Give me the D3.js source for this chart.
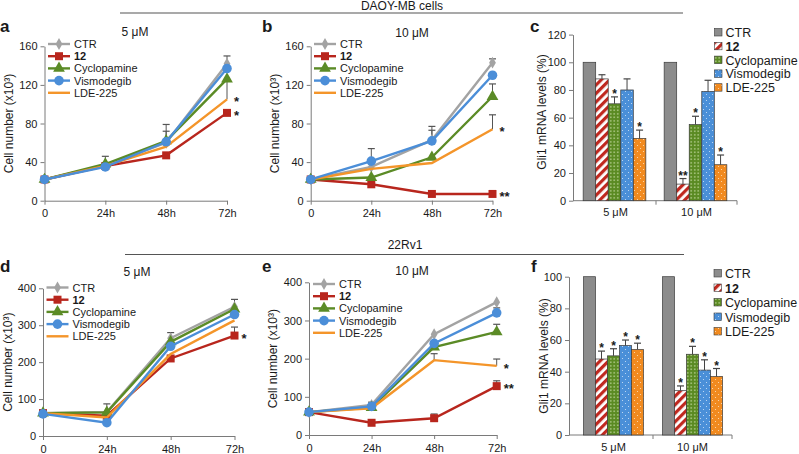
<!DOCTYPE html>
<html><head><meta charset="utf-8">
<script src="https://cdn.jsdelivr.net/npm/d3@7"></script>
<style>body{margin:0;background:#fff} svg{display:block} text{font-family:Arial,"Liberation Sans",sans-serif;fill:#1a1a1a}</style>
</head><body><svg id="c" width="799" height="454"></svg>
<script>
// ---------- DATA ----------
const timepoints = ["0","24h","48h","72h"];
const seriesNames = ["CTR","12","Cyclopamine","Vismodegib","LDE-225"];
const doseGroups = ["5 μM","10 μM"];

// Panel a: DAOY-MB, 5 μM (cells x10^3)
const aCTR = [22,37,60,142], aCTRerr = [null,46,79,150];
const a12  = [22,36,47,91],  a12err  = [null,null,null,null];
const aCyc = [22,38,62,126], aCycerr = [null,null,null,null];
const aVis = [22,35,61,137], aViserr = [null,null,72,null];
const aLDE = [22,36,56,105], aLDEerr = [null,null,null,124];
const aStars = ["","*","","","*"];

// Panel b: DAOY-MB, 10 μM
const bCTR = [22,35,63,143], bCTRerr = [null,null,77,147];
const b12  = [22,17,7,7],    b12err  = [null,null,null,null];
const bCyc = [22,24,45,108], bCycerr = [null,null,null,121];
const bVis = [22,41,62,130], bViserr = [null,54,73,null];
const bLDE = [22,33,39,74],  bLDEerr = [null,null,null,89];
const bStars = ["","**","","","*"];

// Panel d: 22Rv1, 5 μM
const dCTR = [62,65,265,350], dCTRerr = [null,87,280,370];
const d12  = [62,55,210,272], d12err  = [null,null,null,295];
const dCyc = [62,64,255,344], dCycerr = [null,null,null,null];
const dVis = [60,36,243,329], dViserr = [null,null,null,null];
const dLDE = [62,50,222,313], dLDEerr = [null,null,null,null];
const dStars = ["","*","","",""];

// Panel e: 22Rv1, 10 μM
const eCTR = [60,79,264,348], eCTRerr = [null,86,null,null];
const e12  = [60,32,44,128],  e12err  = [null,38,55,142];
const eCyc = [60,72,230,270], eCycerr = [null,null,null,290];
const eVis = [60,75,240,320], eViserr = [null,null,null,333];
const eLDE = [60,70,196,181], eLDEerr = [null,null,213,199];
const eStars = ["","**","","","*"];

// Panel c: Gli1 mRNA (%), DAOY-MB
const c5  = [100,88,70,80,45], c5err  = [null,91,75,88,51], c5stars  = ["","","*","","*"];
const c10 = [100,12,55,79,26], c10err = [null,16,61,87,33], c10stars = ["","**","*","","*"];
// Panel f: Gli1 mRNA (%), 22Rv1
const f5  = [100,48,50,56.5,54], f5err  = [null,53,54.5,60,58], f5stars  = ["","*","*","*","*"];
const f10 = [100,28,51,41,37],   f10err = [null,31,56,47.5,42], f10stars = ["","*","*","*","*"];

const lineTicks160 = [0,40,80,120,160];
const lineTicks400 = [0,100,200,300,400];
const barTicks120 = [0,20,40,60,80,100,120];
const barTicks100 = [0,20,40,60,80,100];

// ---------- STYLE ----------
const lineColors = ["#a3a3a3","#b8261d","#5b8b26","#4b8ed8","#f4952a"];
const markerTypes = [d3.symbolDiamond, d3.symbolSquare, d3.symbolTriangle, d3.symbolCircle, null];
const markerSizes = [40, 64, 60, 72, 0];
const FONT = 'Arial,"Liberation Sans",sans-serif';

const svg = d3.select("#c");
const defs = svg.append("defs");

function pat(id, w, h, draw) {
  const p = defs.append("pattern").attr("id", id).attr("patternUnits","userSpaceOnUse")
    .attr("width", w).attr("height", h);
  draw(p);
}
pat("pCTR", 4, 4, p => p.append("rect").attr("width",4).attr("height",4).attr("fill","#8c8c8c"));
pat("p12", 6, 6, p => {
  p.attr("patternTransform","rotate(45)");
  p.append("rect").attr("width",6).attr("height",6).attr("fill","#fff");
  p.append("rect").attr("width",3.2).attr("height",6).attr("fill","#c0281f");
});
pat("pCyc", 3.5, 3.5, p => {
  p.append("rect").attr("width",3.5).attr("height",3.5).attr("fill","#5a8a22");
  p.append("circle").attr("cx",1.75).attr("cy",1.75).attr("r",0.75).attr("fill","#d7e8b8");
});
pat("pVis", 6, 6, p => {
  p.append("rect").attr("width",6).attr("height",6).attr("fill","#4a8fd8");
  p.append("circle").attr("cx",1.5).attr("cy",1.5).attr("r",0.55).attr("fill","#cfe2f7");
  p.append("circle").attr("cx",4.5).attr("cy",4.5).attr("r",0.55).attr("fill","#cfe2f7");
});
pat("pLDE", 6, 6, p => {
  p.append("rect").attr("width",6).attr("height",6).attr("fill","#f18a1f");
  p.append("circle").attr("cx",1.5).attr("cy",1.5).attr("r",0.55).attr("fill","#fde0bd");
  p.append("circle").attr("cx",4.5).attr("cy",4.5).attr("r",0.55).attr("fill","#fde0bd");
});
const barFills = ["url(#pCTR)","url(#p12)","url(#pCyc)","url(#pVis)","url(#pLDE)"];

function styleAxis(g) {
  g.selectAll(".domain").attr("stroke","#7a7a7a").attr("stroke-width",1);
  g.selectAll(".tick line").attr("stroke","#7a7a7a");
  g.selectAll(".tick text").attr("font-size",11).attr("font-family",FONT).attr("fill","#1a1a1a");
}

function text(x, y, s, opts = {}) {
  const t = svg.append("text").attr("x",x).attr("y",y).text(s)
    .attr("font-size", opts.size || 12).attr("font-family",FONT)
    .attr("text-anchor", opts.anchor || "start");
  if (opts.weight) t.attr("font-weight", opts.weight);
  return t;
}
function ylabel(x, y, s) {
  svg.append("text").attr("transform",`translate(${x},${y}) rotate(-90)`)
    .attr("text-anchor","middle").attr("font-size",12).attr("font-family",FONT).text(s);
}

// ---------- LINE PANELS ----------
function linePanel(cfg) {
  const x = d3.scalePoint().domain(timepoints).range([cfg.x0, cfg.x1]);
  const y = d3.scaleLinear().domain([0, cfg.ymax]).range([cfg.y0, cfg.y1]);
  const gy = svg.append("g").attr("transform",`translate(${cfg.x0},0)`)
    .call(d3.axisLeft(y).tickValues(cfg.ticks).tickSize(4).tickSizeOuter(0).tickPadding(3));
  styleAxis(gy);
  const gx = svg.append("g").attr("transform",`translate(0,${cfg.y0})`)
    .call(d3.axisBottom(x).tickSize(4).tickSizeOuter(0).tickPadding(5));
  styleAxis(gx);

  const line = d3.line().x((d,i) => x(timepoints[i])).y(d => y(d));
  const order = [0,1,2,4,3];
  cfg.series.forEach((vals, si) => {
    cfg.errs[si].forEach((e, i) => {
      if (e == null) return;
      const xx = x(timepoints[i]);
      svg.append("line").attr("x1",xx).attr("x2",xx).attr("y1",y(vals[i])).attr("y2",y(e))
        .attr("stroke","#555").attr("stroke-width",1);
      svg.append("line").attr("x1",xx-3.5).attr("x2",xx+3.5).attr("y1",y(e)).attr("y2",y(e))
        .attr("stroke","#555").attr("stroke-width",1.2);
    });
  });
  order.forEach(si => {
    const vals = cfg.series[si];
    svg.append("path").datum(vals).attr("d", line).attr("fill","none")
      .attr("stroke", lineColors[si]).attr("stroke-width", 2.4);
    if (markerTypes[si]) {
      svg.append("g").selectAll("path").data(vals).join("path")
        .attr("transform",(d,i) => `translate(${x(timepoints[i])},${y(d)})`)
        .attr("d", d3.symbol(markerTypes[si], markerSizes[si]))
        .attr("fill", lineColors[si]);
    }
  });
  cfg.stars.forEach((s, si) => {
    if (!s) return;
    const v = cfg.series[si][3];
    text(x("72h") + 7, y(v) + 7, s, {size: 13, weight: "bold"});
  });
  seriesNames.forEach((n, si) => {
    const ly = cfg.ly + si * cfg.lstep;
    svg.append("line").attr("x1",cfg.lx).attr("x2",cfg.lx+22).attr("y1",ly).attr("y2",ly)
      .attr("stroke",lineColors[si]).attr("stroke-width",2.4);
    if (markerTypes[si]) svg.append("path").attr("transform",`translate(${cfg.lx+11},${ly})`)
      .attr("d", d3.symbol(markerTypes[si], markerSizes[si])).attr("fill",lineColors[si]);
    text(cfg.lx + 26, ly + 4, n, {size: 11, weight: si === 1 ? "bold" : null});
  });
  text(cfg.tx, cfg.ty, cfg.title, {anchor: "middle"});
  text(cfg.letterX, cfg.letterY, cfg.letter, {size: 17, weight: "bold"});
  ylabel(cfg.ylx, (cfg.y0 + cfg.y1) / 2, "Cell number (x10³)");
}

linePanel({x0:44.5,x1:227,y0:200.7,y1:46.3,ymax:160,ticks:lineTicks160,
  series:[aCTR,a12,aCyc,aVis,aLDE], errs:[aCTRerr,a12err,aCycerr,aViserr,aLDEerr],
  stars:aStars, lx:48, ly:44, lstep:12.2, title:"5 μM", tx:135, ty:36,
  letter:"a", letterX:0, letterY:32, ylx:13});
linePanel({x0:310.7,x1:492.5,y0:200.7,y1:46.3,ymax:160,ticks:lineTicks160,
  series:[bCTR,b12,bCyc,bVis,bLDE], errs:[bCTRerr,b12err,bCycerr,bViserr,bLDEerr],
  stars:bStars, lx:314, ly:44, lstep:12.2, title:"10 μM", tx:412, ty:37,
  letter:"b", letterX:262, letterY:32, ylx:279});
linePanel({x0:43,x1:234.5,y0:436,y1:288.3,ymax:400,ticks:lineTicks400,
  series:[dCTR,d12,dCyc,dVis,dLDE], errs:[dCTRerr,d12err,dCycerr,dViserr,dLDEerr],
  stars:dStars, lx:46.5, ly:287.5, lstep:12.2, title:"5 μM", tx:137, ty:276,
  letter:"d", letterX:0, letterY:272, ylx:12});
linePanel({x0:309,x1:496.7,y0:435,y1:282.3,ymax:400,ticks:lineTicks400,
  series:[eCTR,e12,eCyc,eVis,eLDE], errs:[eCTRerr,e12err,eCycerr,eViserr,eLDEerr],
  stars:eStars, lx:313, ly:284, lstep:12.2, title:"10 μM", tx:412, ty:275,
  letter:"e", letterX:262, letterY:272, ylx:277});

// ---------- BAR PANELS ----------
function barPanel(cfg) {
  const y = d3.scaleLinear().domain([0, cfg.ymax]).range([cfg.y0, cfg.y1]);
  const xo = d3.scaleBand().domain(doseGroups).range([cfg.bx0, cfg.bx1]).padding(0);
  const gy = svg.append("g").attr("transform",`translate(${cfg.ax},0)`)
    .call(d3.axisLeft(y).tickValues(cfg.ticks).tickSize(4).tickSizeOuter(0).tickPadding(3));
  styleAxis(gy);
  const gx = svg.append("g").attr("transform",`translate(0,${cfg.y0})`)
    .call(d3.axisBottom(xo).tickSize(0).tickPadding(8));
  styleAxis(gx);
  gx.select(".domain").remove();
  svg.append("line").attr("x1",cfg.ax).attr("x2",cfg.bx1).attr("y1",cfg.y0).attr("y2",cfg.y0)
    .attr("stroke","#7a7a7a");
  [cfg.bx0 + xo.bandwidth(), cfg.bx1].forEach(t =>
    svg.append("line").attr("x1",t).attr("x2",t).attr("y1",cfg.y0).attr("y2",cfg.y0+4).attr("stroke","#7a7a7a"));

  const groups = [cfg.g5, cfg.g10];
  groups.forEach((g, gi) => {
    const b0 = xo(doseGroups[gi]);
    const pad = xo.bandwidth() * cfg.pad;
    const xi = d3.scaleBand().domain(seriesNames).range([b0 + pad + cfg.shift, b0 + xo.bandwidth() - pad + cfg.shift]);
    g.vals.forEach((v, si) => {
      const bx = xi(seriesNames[si]), bw = xi.bandwidth();
      svg.append("rect").attr("x",bx).attr("y",y(v)).attr("width",bw).attr("height",cfg.y0 - y(v))
        .attr("fill", barFills[si]).attr("stroke","#3a3a3a").attr("stroke-width",0.7);
      const e = g.errs[si];
      const cx = bx + bw / 2;
      if (e != null) {
        svg.append("line").attr("x1",cx).attr("x2",cx).attr("y1",y(v)).attr("y2",y(e)).attr("stroke","#444");
        svg.append("line").attr("x1",cx-3.5).attr("x2",cx+3.5).attr("y1",y(e)).attr("y2",y(e)).attr("stroke","#444").attr("stroke-width",1.2);
      }
      if (g.stars[si]) text(cx, y(e != null ? e : v) + 1, g.stars[si], {size: 12, anchor: "middle", weight: "bold"});
    });
  });
  seriesNames.forEach((n, si) => {
    const ly = cfg.ly + si * cfg.lstep;
    svg.append("rect").attr("x",cfg.lx).attr("y",ly-4).attr("width",7.5).attr("height",7.5)
      .attr("fill",barFills[si]).attr("stroke","#3a3a3a").attr("stroke-width",0.6);
    text(cfg.lx + 11, ly + 4.5, n, {size: 12.5, weight: si === 1 ? "bold" : null});
  });
  text(cfg.letterX, cfg.letterY, cfg.letter, {size: 17, weight: "bold"});
  ylabel(cfg.ylx, cfg.ylc, "Gli1 mRNA levels (%)");
}

barPanel({ax:573, bx0:575, bx1:737, y0:200.7, y1:34.6, ymax:120, ticks:barTicks120,
  pad:0.113, shift:-1,
  g5:{vals:c5, errs:c5err, stars:c5stars}, g10:{vals:c10, errs:c10err, stars:c10stars},
  lx:714.5, ly:32.5, lstep:13.8, letter:"c", letterX:530, letterY:32, ylx:546, ylc:112});
barPanel({ax:569, bx0:574, bx1:732, y0:435, y1:276.7, ymax:100, ticks:barTicks100,
  pad:0.12, shift:0,
  g5:{vals:f5, errs:f5err, stars:f5stars}, g10:{vals:f10, errs:f10err, stars:f10stars},
  lx:714, ly:273.5, lstep:14.5, letter:"f", letterX:531, letterY:272, ylx:548, ylc:356});

// ---------- HEADERS ----------
text(402, 10, "DAOY-MB cells", {anchor: "middle"});
svg.append("line").attr("x1",120).attr("x2",683).attr("y1",13).attr("y2",13).attr("stroke","#555").attr("stroke-width",1.2);
text(405, 249, "22Rv1", {anchor: "middle"});
svg.append("line").attr("x1",125).attr("x2",684).attr("y1",254.5).attr("y2",254.5).attr("stroke","#555").attr("stroke-width",1.2);
</script></body></html>
